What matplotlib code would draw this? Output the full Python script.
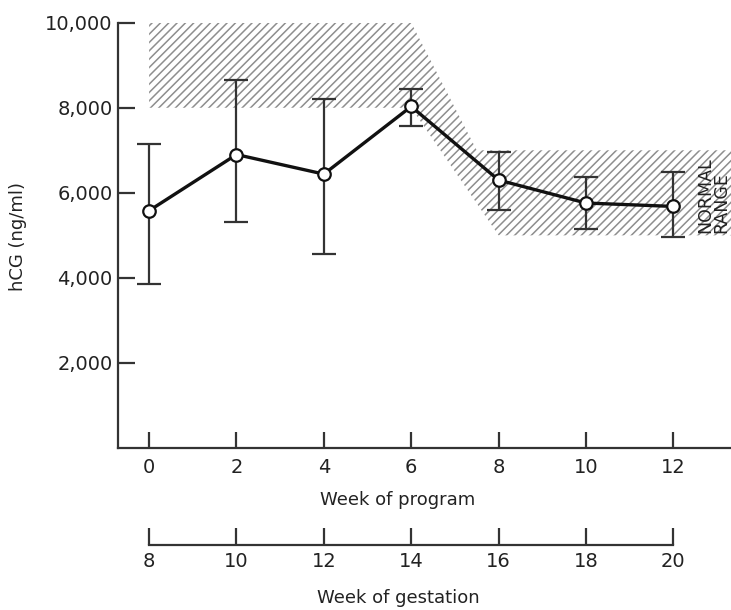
import matplotlib
matplotlib.use("Agg")
import matplotlib.pyplot as plt
import numpy as np

# hCG during the program, mean with range bars
weeks_program = [0, 2, 4, 6, 8, 10, 12]
hcg_mean = [5580, 6900, 6440, 8030, 6300, 5760, 5680]
hcg_high = [7150, 8650, 8200, 8440, 6950, 6380, 6480]
hcg_low = [3850, 5320, 4550, 7580, 5600, 5150, 4960]

# normal range band, in weeks of gestation
normal_upper_weeks = [8, 14, 15.5, 22]
normal_upper = [10000, 10000, 7000, 7000]
normal_lower_weeks = [8, 14, 16, 22]
normal_lower = [8000, 8000, 5000, 5000]

gestation_ticks = [8, 10, 12, 14, 16, 18, 20]
program_ticks = [0, 2, 4, 6, 8, 10, 12]
y_ticks = [2000, 4000, 6000, 8000, 10000]
y_ticklabels = ["2,000", "4,000", "6,000", "8,000", "10,000"]

GEST_OFFSET = 8
W, H = 731, 610

plt.rcParams["font.family"] = ["DejaVu Sans"]
plt.rcParams["hatch.linewidth"] = 1.1

fig = plt.figure(figsize=(W / 100, H / 100), dpi=100)
ax = fig.add_axes([118 / W, 1 - 448 / H, 1 - 118 / W, (448 - 22.7) / H])

xlim = (-0.712, 13.32)
ax.set_xlim(*xlim)
ax.set_ylim(0, 10000)

# shaded normal range
band_x = [w - GEST_OFFSET for w in normal_upper_weeks] + [
    w - GEST_OFFSET for w in normal_lower_weeks[::-1]
]
band_y = normal_upper + normal_lower[::-1]
ax.fill(band_x, band_y, facecolor="none", edgecolor="#8e8e8e", hatch="////",
        linewidth=0, zorder=1)

mean = np.array(hcg_mean)
yerr = [mean - np.array(hcg_low), np.array(hcg_high) - mean]
ax.errorbar(weeks_program, hcg_mean, yerr=yerr, fmt="none", ecolor="#333333",
            elinewidth=1.6, capsize=8.5, capthick=1.6, zorder=2)
ax.plot(weeks_program, hcg_mean, color="#111111", linewidth=2.4, marker="o",
        markersize=9, markerfacecolor="white", markeredgecolor="#111111",
        markeredgewidth=1.6, zorder=3, clip_on=False)

ax.text(12.92, 5950, "NORMAL\nRANGE", rotation=90, ha="center", va="center",
        multialignment="left", fontsize=12.5, linespacing=0.85,
        color="#222222", zorder=4)

for side in ("top", "right"):
    ax.spines[side].set_visible(False)
for side in ("left", "bottom"):
    ax.spines[side].set_linewidth(1.6)
    ax.spines[side].set_color("#333333")

ax.set_xticks(program_ticks)
ax.set_xticklabels([str(t) for t in program_ticks])
ax.set_yticks(y_ticks)
ax.set_yticklabels(y_ticklabels)
ax.tick_params(axis="x", direction="in", length=11.5, width=1.6, color="#333333",
               pad=7, labelsize=14, labelcolor="#222222")
ax.tick_params(axis="y", direction="in", length=12, width=1.6, color="#333333",
               pad=4, labelsize=14, labelcolor="#222222")

# second scale: week of gestation
ax2 = fig.add_axes([118 / W, 1 - 545 / H, 1 - 118 / W, 0.001])
ax2.set_xlim(xlim[0] + GEST_OFFSET, xlim[1] + GEST_OFFSET)
ax2.patch.set_visible(False)
for side in ("top", "right", "left"):
    ax2.spines[side].set_visible(False)
ax2.spines["bottom"].set_bounds(gestation_ticks[0], gestation_ticks[-1])
ax2.spines["bottom"].set_linewidth(1.6)
ax2.spines["bottom"].set_color("#333333")
ax2.set_yticks([])
ax2.set_xticks(gestation_ticks)
ax2.set_xticklabels([str(t) for t in gestation_ticks])
ax2.tick_params(axis="x", direction="in", length=12, width=1.6, color="#333333",
                pad=5, labelsize=14, labelcolor="#222222")

fig.text(398 / W, 1 - 500 / H, "Week of program", ha="center", va="center",
         fontsize=13, color="#222222")
fig.text(398 / W, 1 - 598 / H, "Week of gestation", ha="center", va="center",
         fontsize=13, color="#222222")
fig.text(18 / W, 1 - 236 / H, "hCG (ng/ml)", rotation=90, ha="center",
         va="center", fontsize=13, color="#222222")

fig.savefig("out.png", dpi=100)
